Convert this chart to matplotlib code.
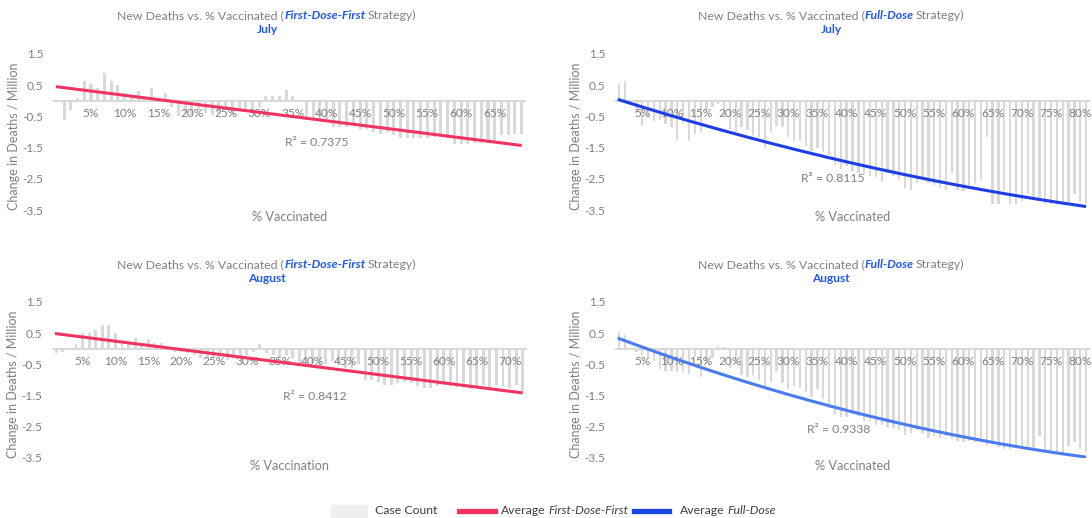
import numpy as np
import matplotlib
matplotlib.use("Agg")
import matplotlib.pyplot as plt
from matplotlib.patches import Rectangle
from matplotlib.lines import Line2D

plt.rcParams['font.family'] = ['Lato', 'DejaVu Sans']

# ---- data ----
fdf_july = [-0.6, -0.3, 0.1, 0.65, 0.55, 0.4, 0.9, 0.65, 0.5, 0.25,
            0.2, 0.3, 0.1, 0.4, 0.1, 0.25, -0.2, -0.5, -0.4, -0.45,
            -0.3, -0.4, -0.45, -0.4, -0.3, -0.45, -0.3, -0.35, -0.4, -0.2,
            0.15, 0.15, 0.15, 0.35, 0.15, -0.05, -0.6, -0.6, -0.6, -0.65,
            -0.85, -0.85, -0.85, -0.8, -0.95, -0.9, -1.0, -1.05, -1.0, -1.1,
            -1.2, -1.2, -1.2, -1.2, -1.2, -1.15, -1.15, -1.2, -1.4, -1.4,
            -1.4, -1.35, -1.35, -1.35, -1.3, -1.1, -1.1, -1.05, -1.05]

fd_july = [0.55, 0.65, -0.15, -0.4, -0.8, -0.5, -0.65, -0.6, -0.75, -0.85,
           -1.25, -0.7, -1.3, -1.05, -1.0, -0.3, -0.2, -0.1, -0.5, -0.9,
           -1.0, -0.85, -0.95, -1.1, -1.15, -1.5, -1.0, -0.8, -0.85, -1.15,
           -1.3, -1.3, -1.45, -1.6, -1.5, -1.65, -1.75, -2.05, -2.2, -2.1,
           -2.25, -2.3, -2.35, -2.4, -2.45, -2.6, -2.3, -2.4, -2.55, -2.8,
           -2.85, -2.65, -2.5, -2.65, -2.7, -2.8, -2.85, -2.3, -2.85, -2.9,
           -2.7, -2.65, -2.5, -1.15, -3.3, -3.3, -2.9, -3.3, -3.3, -3.2,
           -3.0, -3.1, -3.2, -3.3, -3.3, -3.3, -3.3, -3.25, -3.0, -3.2, -3.3]

fdf_aug = [-0.15, -0.1, -0.05, 0.15, 0.5, 0.5, 0.6, 0.75, 0.75, 0.5,
           0.15, 0.15, 0.35, 0.1, 0.3, 0.2, 0.2, -0.05, -0.1, -0.1,
           -0.15, -0.2, -0.3, -0.25, -0.3, -0.25, -0.35, -0.3, -0.3, -0.2,
           -0.1, 0.15, -0.15, -0.2, -0.3, -0.2, -0.3, -0.5, -0.4, -0.45,
           -0.55, -0.5, -0.4, -0.5, -0.6, -0.6, -0.5, -1.0, -1.0, -1.05,
           -1.15, -1.15, -1.1, -1.05, -1.1, -1.2, -1.25, -1.25, -1.2, -1.15,
           -1.2, -1.25, -1.25, -1.3, -1.25, -1.15, -1.3, -1.15, -1.2, -1.25,
           -1.15, -1.35]

fd_aug = [0.55, 0.45, -0.05, -0.1, -0.2, -0.3, -0.4, -0.65, -0.7, -0.7,
          -0.75, -0.7, -0.8, -0.25, -0.9, -0.45, -0.3, 0.1, 0.05, -0.6,
          -0.5, -0.85, -0.9, -0.85, -1.0, -1.25, -1.05, -0.7, -1.1, -1.3,
          -1.2, -1.25, -1.4, -1.55, -1.3, -1.6, -1.9, -2.1, -2.2, -2.2,
          -2.1, -2.15, -2.3, -2.3, -2.45, -2.45, -2.5, -2.55, -2.6, -2.75,
          -2.7, -2.6, -2.7, -2.85, -2.8, -2.85, -2.8, -2.9, -2.95, -3.0,
          -2.95, -3.0, -3.0, -3.1, -3.05, -3.15, -3.2, -3.2, -3.15, -3.2,
          -3.1, -3.2, -2.8, -3.3, -3.35, -3.35, -3.35, -3.1, -3.0, -3.2, -3.3]

r2_labels = ["R\u00b2 = 0.7375", "R\u00b2 = 0.8115", "R\u00b2 = 0.8412", "R\u00b2 = 0.9338"]
months = ["July", "July", "August", "August"]
strategies = ["First-Dose-First", "Full-Dose", "First-Dose-First", "Full-Dose"]
xlabels = ["% Vaccinated", "% Vaccinated", "% Vaccination", "% Vaccinated"]
yticks = [1.5, 0.5, -0.5, -1.5, -2.5, -3.5]

GRAY_TXT = '#808080'
BAR = '#d9d9d9'
BLUE_TXT = '#2158ef'
PINK = '#f2335f'
BLUE_DARK = '#1b3ee6'
BLUE_LIGHT = '#4b7bf0'
LEG_TXT = '#404040'

W, H = 1092, 518
fig = plt.figure(figsize=(W / 100, H / 100), dpi=100)
renderer = fig.canvas.get_renderer()


def rich_line(x_px, y_px, parts, size, ha='center'):
    # parts: (text, color, weight, style, gap_before_px)
    objs, widths = [], []
    for s, color, weight, style, gap in parts:
        t = fig.text(0, 1 - y_px / H, s, fontsize=size, color=color,
                     fontweight=weight, fontstyle=style, va='center', ha='left')
        objs.append(t)
        widths.append(t.get_window_extent(renderer).width)
    total = sum(widths) + sum(p[4] for p in parts)
    x = x_px - total / 2 if ha == 'center' else x_px
    for t, w, p in zip(objs, widths, parts):
        x += p[4]
        t.set_x(x / W)
        x += w


# panel layout in pixels: (left, right, top(1.5), bottom(-3.5)), xlim
panels = [
    (fdf_july, 54, 525, 54, 210, (-0.5, 69.5), 1, PINK, 0.45),
    (fd_july, 616, 1089, 54, 210, (0.5, 81.5), 2, BLUE_DARK, 0.4),
    (fdf_aug, 53, 526, 302, 458, (0.5, 72.5), 1, PINK, 0.45),
    (fd_aug, 616, 1089, 302, 458, (0.5, 81.5), 2, BLUE_LIGHT, 0.4),
]
r2_pos = [(38.5, -1.35), (37.7, -2.48), (40.4, -1.54), (38.6, -2.6)]
title_pos = [(267, 15.5), (831, 15.5), (267, 264.5), (831, 264.5)]
xlabel_y = [217, 217, 466, 466]

for i, (vals, l, r, t, b, xlim, deg, lc, bw) in enumerate(panels):
    ax = fig.add_axes([l / W, 1 - b / H, (r - l) / W, (b - t) / H])
    x = np.arange(1, len(vals) + 1)
    ax.bar(x, vals, width=bw, color=BAR, zorder=1)
    coef = np.polyfit(x, vals, deg)
    xs = np.linspace(xlim[0] + 0.3, len(vals), 200)
    ax.plot(xs, np.polyval(coef, xs), color=lc, lw=2.2, zorder=3,
            solid_capstyle='butt')
    ax.set_xlim(*xlim)
    ax.set_ylim(-3.5, 1.5)
    ax.set_yticks(yticks)
    ax.set_yticklabels([f"{v:.1f}" for v in yticks])
    ticks = np.arange(5, len(vals) + 1, 5)
    ax.set_xticks(ticks)
    ax.set_xticklabels([f"{k}%" for k in ticks])
    for s in ['top', 'right', 'left']:
        ax.spines[s].set_visible(False)
    ax.spines['bottom'].set_position(('data', 0))
    ax.spines['bottom'].set_color(BAR)
    ax.spines['bottom'].set_linewidth(1.5)
    ax.spines['bottom'].set_zorder(0.5)
    ax.tick_params(axis='x', length=0, pad=5.5, labelsize=8.6, labelcolor=GRAY_TXT)
    ax.tick_params(axis='y', length=0, pad=7.5, labelsize=8.6,
                   labelcolor=GRAY_TXT)
    ax.patch.set_alpha(0)
    ax.text(r2_pos[i][0], r2_pos[i][1], r2_labels[i], fontsize=8.8,
            color=GRAY_TXT, ha='center', va='center')
    # axis titles
    fig.text((l + r) / 2 / W, 1 - xlabel_y[i] / H, xlabels[i], fontsize=9.2,
             color=GRAY_TXT, ha='center', va='center')
    fig.text((l - 40) / W, 1 - ((t + b) / 2 + 4) / H,
             "Change in Deaths / Million", rotation=90, fontsize=9,
             color=GRAY_TXT, ha='center', va='center')
    tx, ty = title_pos[i]
    rich_line(tx, ty, [
        ("New Deaths vs. % Vaccinated (", GRAY_TXT, 'normal', 'normal', 0),
        (strategies[i], BLUE_TXT, 'bold', 'italic', 0),
        ("Strategy)", GRAY_TXT, 'normal', 'normal', 2.5),
    ], 8.8)
    fig.text(tx / W, 1 - (ty + 14) / H, months[i], fontsize=8.6,
             color=BLUE_TXT, fontweight='bold', ha='center', va='center')

# ---- legend ----
ly = 511
leg_size = 8.8
fig.patches.append(Rectangle((331 / W, 1 - 517 / H), 36 / W, 12 / H,
                             transform=fig.transFigure, color='#efefef'))
fig.text(375 / W, 1 - ly / H, "Case Count", fontsize=leg_size, color=LEG_TXT,
         va='center', ha='left')
fig.lines.append(Line2D([459 / W, 495 / W], [1 - ly / H] * 2, color=PINK,
                        lw=3.8, transform=fig.transFigure))
rich_line(501, ly, [("Average", LEG_TXT, 'normal', 'normal', 0),
                    ("First-Dose-First", LEG_TXT, 'normal', 'italic', 2.5)],
          leg_size, ha='left')
fig.lines.append(Line2D([634 / W, 669 / W], [1 - ly / H] * 2, color='#1a46e6',
                        lw=3.8, transform=fig.transFigure))
rich_line(680, ly, [("Average", LEG_TXT, 'normal', 'normal', 0),
                    ("Full-Dose", LEG_TXT, 'normal', 'italic', 2.5)],
          leg_size, ha='left')

fig.savefig("out.png", dpi=100)
